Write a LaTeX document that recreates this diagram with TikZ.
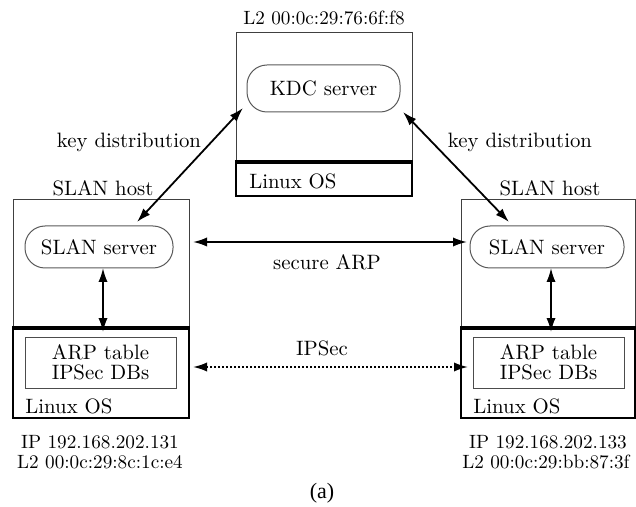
\documentclass[tikz,border=0pt]{standalone}
\usepackage{fontspec}
\newfontfamily\capfont{Liberation Serif}
\usetikzlibrary{arrows.meta}
\tikzset{
  every node/.style={font=\fontsize{10.4}{10}\selectfont},
  hostbox/.style={draw=black!75, line width=0.5pt, inner sep=0pt},
  osbox/.style={draw=black, line width=1pt, inner sep=0pt},
  sepline/.style={line width=1.6pt},
  srv/.style={draw=black!65, line width=0.5pt, rounded corners=10pt, inner sep=0pt},
  tblbox/.style={draw=black!70, line width=0.5pt, inner sep=0pt, align=center},
  addr/.style={font=\fontsize{9.6}{10}\selectfont},
  link/.style={line width=0.9pt, {Latex[length=7pt,width=4.6pt]}-{Latex[length=7pt,width=4.6pt]}},
  dotlink/.style={link, dash pattern=on 1pt off 1pt},
}
\begin{document}
\begin{tikzpicture}[x=0.5pt,y=-0.5pt]
\useasboundingbox (0,0) rectangle (636,507);

% KDC host
\node[hostbox, minimum width=88pt, minimum height=65pt] (kdchost) at (324,98) {};
\node[osbox, minimum width=88pt, minimum height=16.5pt] (kdcos) at (324,179.5) {};
\draw[sepline] (kdcos.north west) -- (kdcos.north east);
\node[anchor=west, inner sep=0pt] (kdcoslab) at (249,181) {Linux OS};
\node[srv, minimum width=76.5pt, minimum height=23.5pt] (kdc) at (323.5,88.5) {KDC server};
\node[addr] (kdcaddr) at (324,18) {L2 00:0c:29:76:6f:f8};

% Left SLAN host
\node[hostbox, minimum width=88pt, minimum height=64.5pt] (hostL) at (101,264.5) {};
\node[osbox, minimum width=88pt, minimum height=44.5pt] (osL) at (101,373.5) {};
\draw[sepline] (osL.north west) -- (osL.north east);
\node[srv, minimum width=74pt, minimum height=21pt] (slanL) at (99,247) {SLAN server};
\node[tblbox, minimum width=75.5pt, minimum height=25.5pt] (arpL) at (100.5,362.5) {ARP table\\IPSec DBs};
\node[anchor=west, inner sep=0pt] (osLlab) at (25,406) {Linux OS};
\node (hostLlab) at (103,188) {SLAN host};
\node[addr] (ipL) at (100,442) {IP 192.168.202.131};
\node[addr] (l2L) at (100,462) {L2 00:0c:29:8c:1c:e4};

% Right SLAN host
\node[hostbox, minimum width=87pt, minimum height=64.5pt] (hostR) at (548,264.5) {};
\node[osbox, minimum width=87pt, minimum height=44.5pt] (osR) at (548,373.5) {};
\draw[sepline] (osR.north west) -- (osR.north east);
\node[srv, minimum width=77pt, minimum height=21pt] (slanR) at (547,247) {SLAN server};
\node[tblbox, minimum width=75.5pt, minimum height=25.5pt] (arpR) at (548.5,362.5) {ARP table\\IPSec DBs};
\node[anchor=west, inner sep=0pt] (osRlab) at (473,406) {Linux OS};
\node (hostRlab) at (550,188) {SLAN host};
\node[addr] (ipR) at (548,442) {IP 192.168.202.133};
\node[addr] (l2R) at (546,462) {L2 00:0c:29:bb:87:3f};

% connector end points
\coordinate (kdcL) at (243,108);
\coordinate (kdcR) at (403,112);
\coordinate (slanLtop) at (137,222);
\coordinate (slanRtop) at (509,222);
\coordinate (sarpL) at (193,242);
\coordinate (sarpR) at (467,242);
\coordinate (ipsL) at (193,367);
\coordinate (ipsR) at (468,367);
\coordinate (vLtop) at (103,268);
\coordinate (vLbot) at (103,332);
\coordinate (vRtop) at (551,268);
\coordinate (vRbot) at (551,332);

% connectors
\draw[link] (kdcL) -- (slanLtop);
\draw[link] (kdcR) -- (slanRtop);
\draw[link] (sarpL) -- (sarpR);
\draw[dotlink] (ipsL) -- (ipsR);
\draw[link] (vLtop) -- (vLbot);
\draw[link] (vRtop) -- (vRbot);

% labels
\node (kdlabL) at (129,142) {key distribution};
\node (kdlabR) at (520,142) {key distribution};
\node (sarplab) at (327,262) {secure ARP};
\node (ipslab) at (322,348) {IPSec};
\node[font=\capfont\fontsize{11}{12}\selectfont] (cap) at (322,493) {(a)};
\end{tikzpicture}
\end{document}
